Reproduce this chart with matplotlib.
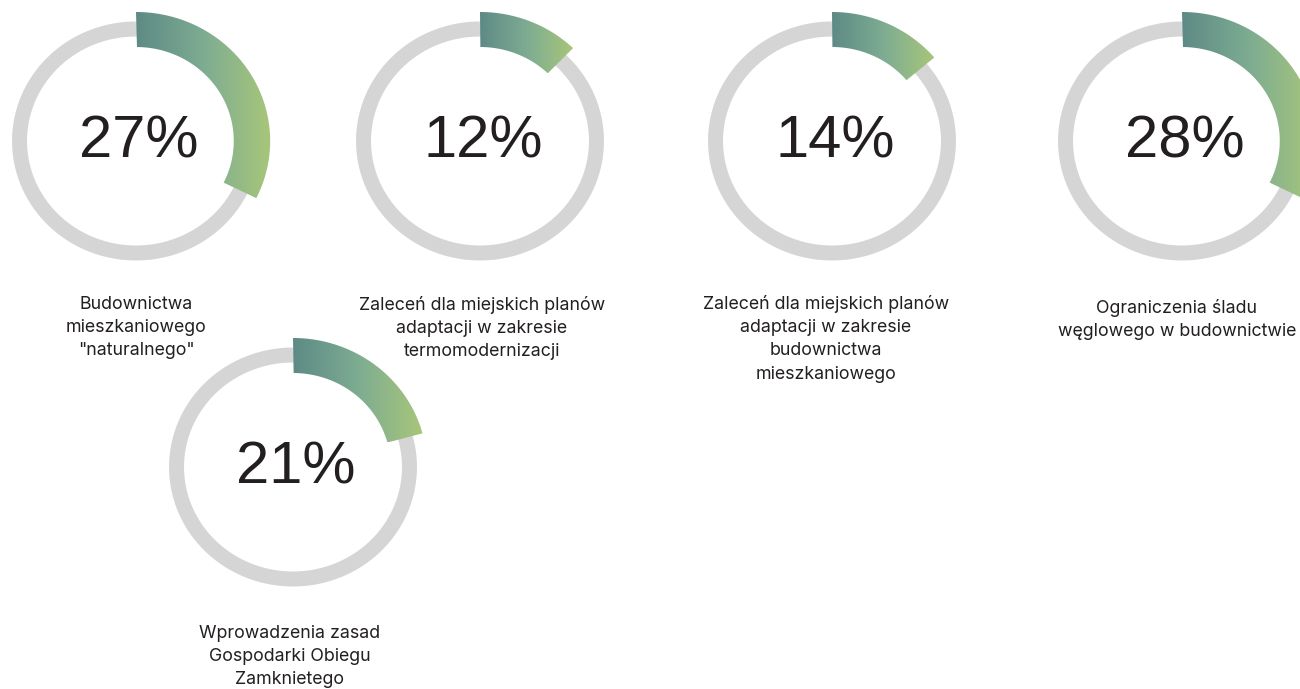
import numpy as np
import matplotlib
matplotlib.use("Agg")
import matplotlib.pyplot as plt
from matplotlib.path import Path
from matplotlib.patches import PathPatch
from matplotlib.colors import LinearSegmentedColormap

# values shown in the centre of each ring
shown_pct = [27, 12, 14, 28, 21]
# share of the ring covered by the green arc
arc_pct = [32.3, 12.2, 13.8, 32.3, 20.8]
labels = [
    "Budownictwa\nmieszkaniowego\n\"naturalnego\"",
    "Zaleceń dla miejskich planów\nadaptacji w zakresie\ntermomodernizacji",
    "Zaleceń dla miejskich planów\nadaptacji w zakresie\nbudownictwa\nmieszkaniowego",
    "Ograniczenia śladu\nwęglowego w budownictwie",
    "Wprowadzenia zasad\nGospodarki Obiegu\nZamknietego",
]

# layout (pixels)
centers = [(136, 141), (480, 141), (832, 141), (1182, 141), (293, 467)]
label_pos = [(136, 296), (482, 296), (826, 295), (1177, 299), (290, 625)]
sx = 1.04          # picture is slightly stretched horizontally
ring_r = 112
ring_w = 15
arc_r0, arc_r1 = 94, 129

grad = LinearSegmentedColormap.from_list(
    "grad", ["#5e8a85", "#7dac92", "#a8c67a"])
ink = "#231f20"
font = ["Inter", "DejaVu Sans"]

fig = plt.figure(figsize=(13, 6.89), dpi=100)
ax = fig.add_axes([0, 0, 1, 1])
ax.set_xlim(0, 1300)
ax.set_ylim(689, 0)
ax.axis("off")

t = np.linspace(0, 2 * np.pi, 400)
for (cx, cy), share, val, lab, (lx, ly) in zip(
        centers, arc_pct, shown_pct, labels, label_pos):
    # grey track
    ax.plot(cx + sx * ring_r * np.sin(t), cy - ring_r * np.cos(t),
            color="#d5d5d5", lw=ring_w * 0.72, solid_capstyle="butt",
            zorder=1)

    # green arc with horizontal gradient
    th = np.linspace(0, 2 * np.pi * share / 100, 200)
    xo = cx + sx * arc_r1 * np.sin(th)
    yo = cy - arc_r1 * np.cos(th)
    xi = cx + sx * arc_r0 * np.sin(th[::-1])
    yi = cy - arc_r0 * np.cos(th[::-1])
    xs = np.concatenate([xo, xi])
    ys = np.concatenate([yo, yi])
    verts = np.column_stack([xs, ys])
    codes = [Path.MOVETO] + [Path.LINETO] * (len(verts) - 2) + [Path.CLOSEPOLY]
    patch = PathPatch(Path(verts, codes), facecolor="none",
                      edgecolor="none", zorder=2)
    ax.add_patch(patch)
    x0, x1 = xs.min(), xs.max()
    y0, y1 = ys.min(), ys.max()
    img = ax.imshow(np.linspace(0, 1, 256).reshape(1, -1), cmap=grad,
                    extent=[x0, x1, y1, y0], aspect="auto", zorder=2,
                    interpolation="bilinear")
    img.set_clip_path(patch)

    ax.text(cx + 3, cy + 17, f"{val}%", ha="center", va="baseline",
            fontsize=43, color=ink, family=["Liberation Sans", "DejaVu Sans"])
    ax.text(lx, ly, lab, ha="center", va="top", fontsize=12.8,
            color=ink, family=font, linespacing=1.48)

ax.set_xlim(0, 1300)
ax.set_ylim(689, 0)
fig.savefig("out.png", dpi=100, facecolor="white")
